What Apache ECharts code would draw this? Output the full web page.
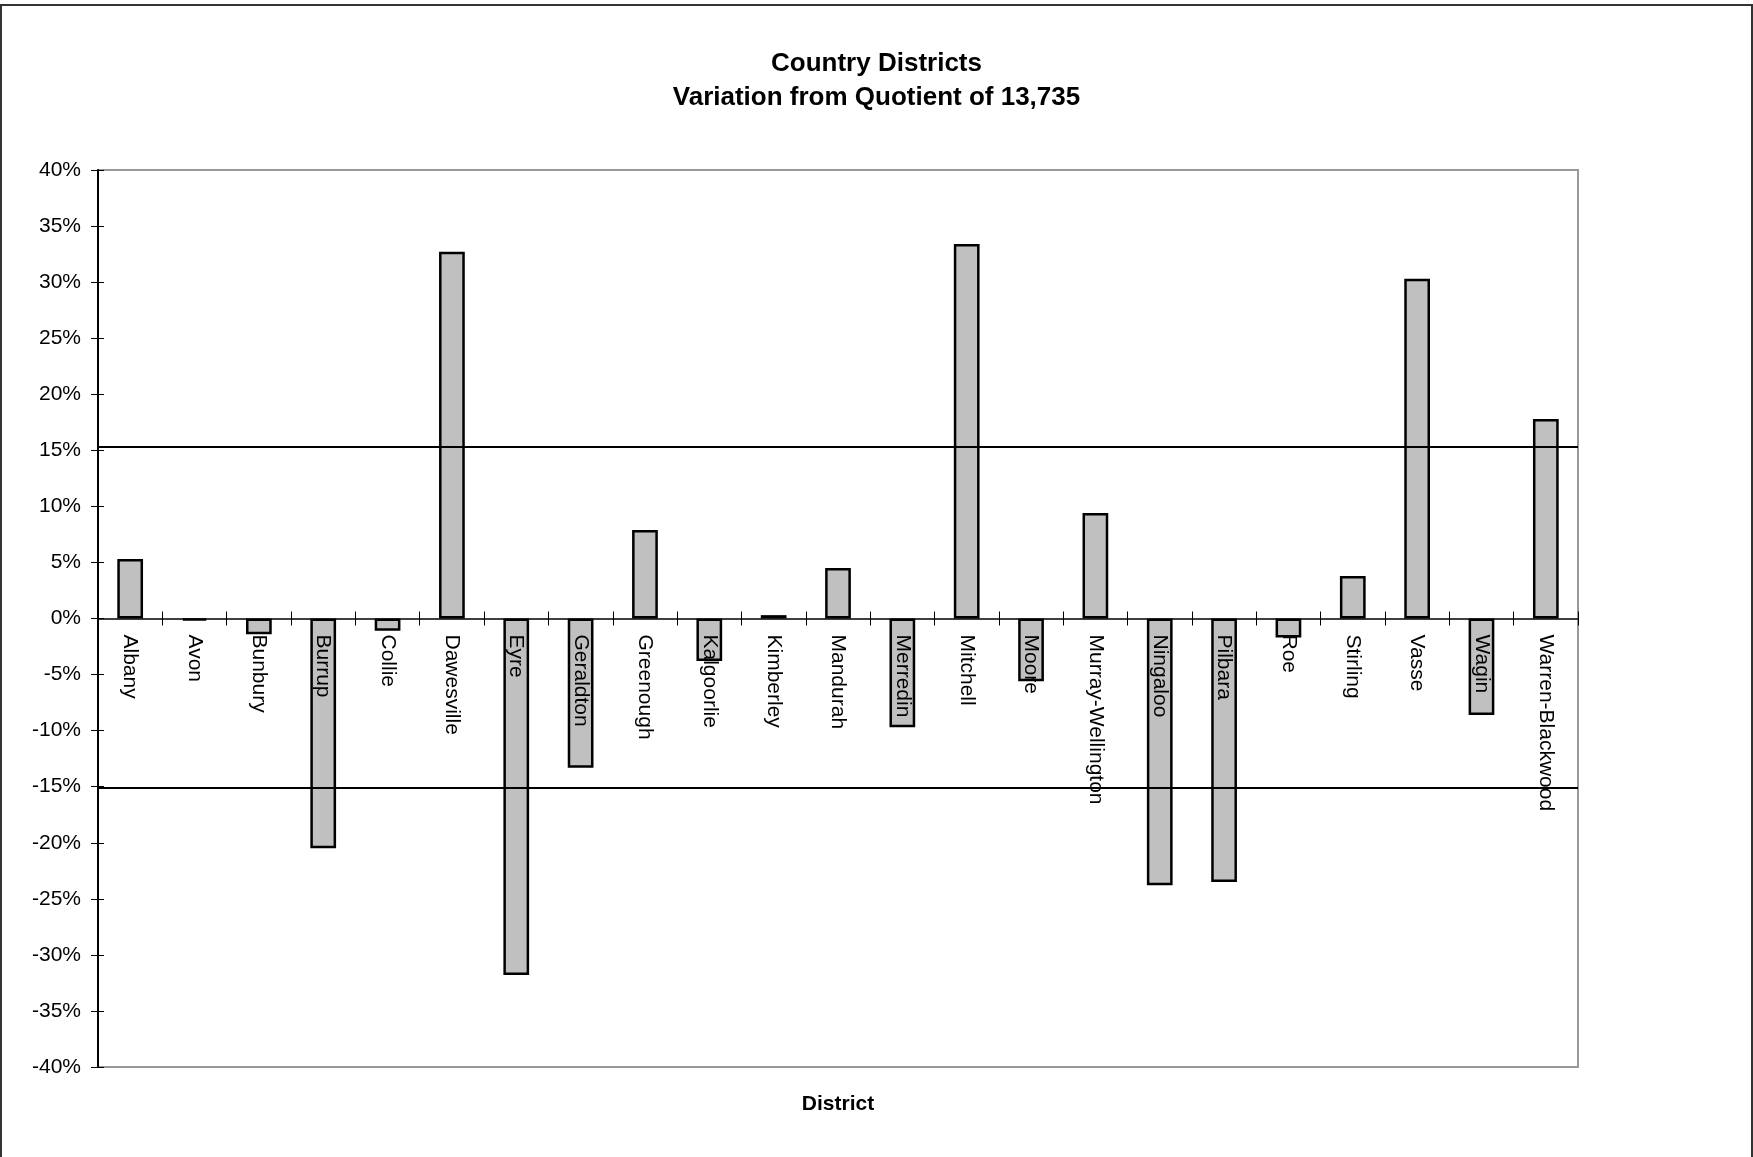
<!DOCTYPE html>
<html>
<head>
<meta charset="utf-8">
<script src="https://cdn.jsdelivr.net/npm/echarts@6/dist/echarts.min.js"></script>
<style>
  html, body { margin: 0; padding: 0; background: #fff; }
  #chart { width: 1753px; height: 1157px; }
</style>
</head>
<body>
<div id="chart"></div>
<script>
const districts = ["Albany", "Avon", "Bunbury", "Burrup", "Collie", "Dawesville", "Eyre", "Geraldton", "Greenough", "Kalgoorlie", "Kimberley", "Mandurah", "Merredin", "Mitchell", "Moore", "Murray-Wellington", "Ningaloo", "Pilbara", "Roe", "Stirling", "Vasse", "Wagin", "Warren-Blackwood"];
const variation = [5.3, -0.2, -1.4, -20.5, -1.1, 32.7, -31.8, -13.3, 7.9, -3.8, 0.3, 4.5, -9.7, 33.4, -5.6, 9.4, -23.8, -23.5, -1.7, 3.8, 30.3, -8.6, 17.8];
const toleranceLines = [15.3, -15.1];
const yTicks = { min: -40, max: 40, interval: 5 };
const titleLines = ["Country Districts", "Variation from Quotient of 13,735"];
const xAxisTitle = "District";

const FONT = "'Liberation Sans', Arial, sans-serif";
const W = 1753, H = 1157;
const GRID = { left: 98, right: 175, top: 170, bottom: 90 };
const gridH = H - GRID.top - GRID.bottom;
// distance from grid bottom to the zero line, derived from the value axis range
const zeroFromBottom = gridH * (0 - yTicks.min) / (yTicks.max - yTicks.min);

const chart = echarts.init(document.getElementById('chart'), null, { renderer: 'canvas' });

const option = {
  animation: false,
  backgroundColor: '#fff',
  title: {
    text: titleLines.join('\n'),
    left: 'center',
    top: 42,
    textStyle: { fontFamily: FONT, fontSize: 26, fontWeight: 'bold', color: '#000', lineHeight: 34, align: 'center' }
  },
  grid: Object.assign({
    show: true, borderColor: '#999', borderWidth: 2, backgroundColor: 'transparent',
    containLabel: false, outerBoundsMode: 'none'
  }, GRID),
  xAxis: [
    {
      type: 'category', data: districts, position: 'bottom', z: 10,
      axisLine: { show: true, onZero: true, onZeroAxisIndex: 0, lineStyle: { color: '#000', width: 1.5 } },
      axisTick: { show: true, inside: false, length: 7, interval: 0, lineStyle: { color: '#000', width: 1 } },
      axisLabel: { show: false },
      splitLine: { show: false }
    },
    {
      type: 'category', data: districts, position: 'bottom', z: 10,
      axisLine: { show: false, onZero: true, onZeroAxisIndex: 1 },
      axisTick: { show: true, inside: true, length: 7, interval: 0, lineStyle: { color: '#000', width: 1 } },
      axisLabel: { show: false },
      splitLine: { show: false }
    },
    {
      type: 'category', data: districts, position: 'bottom', z: 11,
      offset: -zeroFromBottom,
      axisLine: { show: false, onZero: false },
      axisTick: { show: false },
      axisLabel: { show: true, interval: 0, rotate: -90, margin: 16, fontFamily: FONT, fontSize: 21, color: '#000' },
      splitLine: { show: false }
    }
  ],
  yAxis: [
    {
      type: 'value', min: yTicks.min, max: yTicks.max, interval: yTicks.interval, position: 'left', z: 10,
      axisLine: { show: true, onZero: false, lineStyle: { color: '#000', width: 2 } },
      axisTick: { show: true, inside: false, length: 7, lineStyle: { color: '#000', width: 1 } },
      axisLabel: { show: true, margin: 17, formatter: '{value}%', fontFamily: FONT, fontSize: 21, color: '#000' },
      splitLine: { show: false }
    },
    {
      type: 'value', min: yTicks.min, max: yTicks.max, interval: yTicks.interval, position: 'left', offset: 0, z: 10,
      axisLine: { show: false, onZero: false },
      axisTick: { show: true, inside: true, length: 6, lineStyle: { color: '#000', width: 1 } },
      axisLabel: { show: false },
      splitLine: { show: false }
    }
  ],
  series: [
    {
      type: 'bar',
      xAxisIndex: 0, yAxisIndex: 0,
      data: variation,
      barWidth: '40%',
      itemStyle: { color: '#c0c0c0', borderColor: '#000', borderWidth: 2.5 },
      z: 2,
      markLine: {
        silent: true,
        symbol: ['none', 'none'],
        label: { show: false },
        lineStyle: { color: '#000', width: 2, type: 'solid' },
        data: toleranceLines.map(v => ({ yAxis: v }))
      }
    }
  ],
  graphic: [
    {
      type: 'rect', z: 100, silent: true,
      shape: { x: 1, y: 5, width: 1751, height: 1165 },
      style: { fill: 'none', stroke: '#333', lineWidth: 2 }
    },
    {
      type: 'text', z: 100, silent: true,
      x: 838, y: 1104,
      style: { text: xAxisTitle, fontFamily: FONT, fontSize: 21, fontWeight: 'bold', fill: '#000', align: 'center', verticalAlign: 'middle' }
    }
  ]
};
chart.setOption(option);
</script>
</body>
</html>
